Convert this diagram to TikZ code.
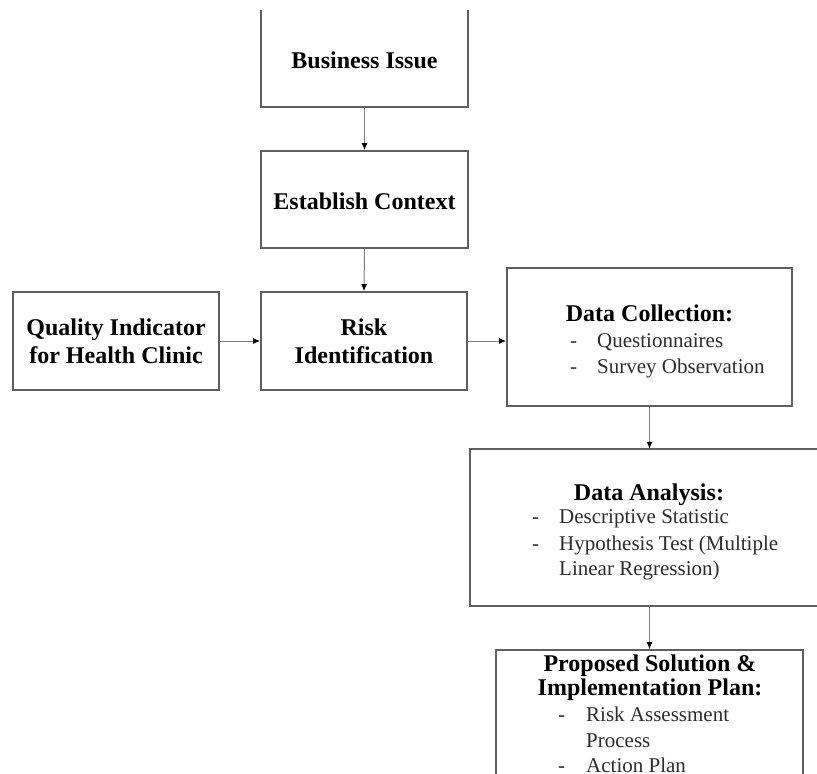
\documentclass[tikz,border=0pt]{standalone}
\usepackage{fontspec}
\setmainfont{Liberation Serif}
\usetikzlibrary{arrows.meta}
\definecolor{boxgray}{RGB}{95,95,95}
\definecolor{linegray}{RGB}{125,125,125}
\definecolor{itemtext}{RGB}{45,45,45}
\tikzset{
  boxline/.style={draw=boxgray, line width=1.8pt},
  boxnode/.style={rectangle, inner sep=0pt, minimum width=#1},
  titletext/.style={font=\fontsize{24}{27}\selectfont\bfseries, text=black, inner sep=0pt, anchor=base},
  itemtext/.style={font=\fontsize{21}{26}\selectfont, text=itemtext, inner sep=0pt, anchor=base west},
  conn/.style={draw=linegray, line width=1pt, -{Latex[length=7pt,width=6pt,color=black]}}
}
\begin{document}
\begin{tikzpicture}[x=1pt,y=-1pt]
\useasboundingbox[fill=white] (0,0) rectangle (817,774);

% boxes
\node[boxnode=207pt, minimum height=97pt] (biz) at (364.5,58.5) {};
\draw[boxline] (biz.north west) -- (biz.south west) -- (biz.south east) -- (biz.north east);
\node[boxnode=207pt, minimum height=97pt, boxline] (ctx) at (364.5,199.5) {};
\node[boxnode=206pt, minimum height=98pt, boxline] (risk) at (364,341) {};
\node[boxnode=206pt, minimum height=98pt, boxline] (qi) at (116,341) {};
\node[boxnode=285pt, minimum height=138pt, boxline] (dc) at (649.5,337) {};
\node[boxnode=370pt, minimum height=157pt] (da) at (655,527.5) {};
\draw[boxline] (da.north east) -- (da.north west) -- (da.south west) -- (da.south east);
\node[boxnode=307pt, minimum height=160pt, boxline] (prop) at (649.5,730) {};

% texts
\node[titletext] (bizT) at (364.5,68) {Business Issue};
\node[titletext] (ctxT) at (364.5,209) {Establish Context};
\node[titletext] (qiT1) at (116,335) {Quality Indicator};
\node[titletext] (qiT2) at (116,363) {for Health Clinic};
\node[titletext] (riskT1) at (364,335) {Risk};
\node[titletext] (riskT2) at (364,363) {Identification};

\node[titletext] (dcT) at (649.5,321) {Data Collection:};
\node[itemtext] (dcD1) at (570,347) {-};
\node[itemtext] (dcI1) at (597,347) {Questionnaires};
\node[itemtext] (dcD2) at (570,373) {-};
\node[itemtext] (dcI2) at (597,373) {Survey Observation};

\node[titletext] (daT) at (649,500) {Data Analysis:};
\node[itemtext] (daD1) at (532,523) {-};
\node[itemtext] (daI1) at (559,523) {Descriptive Statistic};
\node[itemtext] (daD2) at (532,550) {-};
\node[itemtext] (daI2) at (559,550) {Hypothesis Test (Multiple};
\node[itemtext] (daI3) at (559,575) {Linear Regression)};

\node[titletext] (prT1) at (650,671) {Proposed Solution \&};
\node[titletext] (prT2) at (650,695) {Implementation Plan:};
\node[itemtext] (prD1) at (558,721) {-};
\node[itemtext] (prI1) at (586,721) {Risk Assessment};
\node[itemtext] (prI2) at (586,747) {Process};
\node[itemtext] (prD2) at (558,772) {-};
\node[itemtext] (prI3) at (586,772) {Action Plan};

% connectors
\draw[conn] (biz.south) -- (ctx.north);
\draw[conn] (ctx.south) -- (risk.north);
\draw[conn] (qi.east) -- (risk.west);
\draw[conn] (risk.east) -- (dc.west |- risk.east);
\draw[conn] (dc.south) -- (dc.south |- da.north);
\draw[conn] (dc.south |- da.south) -- (prop.north);
\end{tikzpicture}
\end{document}
